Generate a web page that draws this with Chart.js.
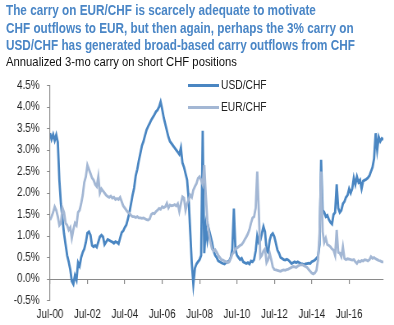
<!DOCTYPE html>
<html>
<head>
<meta charset="utf-8">
<script src="https://cdn.jsdelivr.net/npm/chart.js@4.4.1/dist/chart.umd.min.js"></script>
<style>
  html, body { margin: 0; padding: 0; background: #fff; }
  #wrap { position: relative; width: 394px; height: 325px; overflow: hidden; font-family: "Liberation Sans", Arial, sans-serif; }
  #chart { position: absolute; left: 0; top: 0; }
  .fit { position: absolute; left: 6px; white-space: nowrap; transform-origin: 0 0; }
  #title { top: 1px; font-weight: bold; font-size: 15px; line-height: 17.5px; color: #4A86C6; }
  #subtitle { top: 54px; font-size: 13px; line-height: 16px; color: #111; }
  .leg { position: absolute; font-size: 12.5px; line-height: 14px; color: #222; white-space: nowrap; transform: scaleX(0.82); transform-origin: 0 0; }
  .legline { position: absolute; height: 3px; width: 31px; }
</style>
</head>
<body>
<div id="wrap">
  <canvas id="chart" width="480" height="325" style="width:394px;height:325px;"></canvas>
  <div id="title" class="fit">The carry on EUR/CHF is scarcely adequate to motivate<br>CHF outflows to EUR, but then again, perhaps the 3% carry on<br>USD/CHF has generated broad-based carry outflows from CHF</div>
  <div id="subtitle" class="fit">Annualized 3-mo carry on short CHF positions</div>
  <div class="legline" style="left:188px; top:84px; background:#4A86C2;"></div>
  <div class="leg" style="left:221px; top:78px;">USD/CHF</div>
  <div class="legline" style="left:188px; top:106px; background:#A3B7D4;"></div>
  <div class="leg" style="left:221px; top:100px;">EUR/CHF</div>
</div>
<script>
// Monthly observations, Jul-2000 onward (index = months since Jul-2000)
const usdChf = [
  3.39,3.25,3.36,3.22,3.35,3.18,2.30,1.75,1.40,1.05,
  0.80,0.55,0.40,0.22,-0.05,-0.12,0.08,-0.02,0.38,0.30,
  0.50,0.62,0.70,0.85,1.07,1.10,1.02,0.78,0.75,0.78,
  0.74,0.86,0.98,1.02,0.98,0.80,0.86,0.92,0.90,0.88,
  0.86,0.83,0.87,0.85,0.82,0.95,1.08,1.12,1.20,1.26,
  1.40,1.55,1.75,1.95,2.12,2.40,2.55,2.75,2.92,3.10,
  3.20,3.34,3.47,3.55,3.62,3.70,3.76,3.82,3.89,3.93,
  4.00,4.12,3.95,3.75,3.60,3.45,3.30,3.20,3.15,3.10,
  3.05,3.00,2.95,2.90,3.05,2.70,2.60,2.45,2.30,1.85,
  1.10,0.37,-0.12,0.25,0.35,0.40,0.45,0.55,3.45,0.60,
  1.20,0.90,1.15,1.00,0.85,0.65,0.55,0.50,0.42,0.40,
  0.38,0.36,0.35,0.38,0.40,0.42,0.50,0.70,1.64,0.70,
  0.55,0.50,0.45,0.48,0.40,0.38,0.36,0.38,0.35,0.42,
  0.40,0.45,0.65,1.00,0.85,0.90,1.06,1.22,1.10,0.67,
  0.62,0.90,1.02,1.06,0.98,0.83,0.67,0.60,0.50,0.48,
  0.45,0.44,0.46,0.44,0.40,0.36,0.38,0.40,0.38,0.40,
  0.38,0.36,0.35,0.33,0.35,0.36,0.37,0.36,0.40,0.42,
  0.44,0.48,0.52,0.80,2.77,1.60,1.55,1.45,1.48,1.38,
  1.32,1.28,1.50,1.55,2.20,1.65,1.55,1.60,1.75,1.80,
  1.90,1.95,2.10,2.00,2.10,2.35,2.20,2.38,2.25,2.30,
  2.10,2.28,2.30,2.32,2.35,2.40,2.50,2.60,2.80,3.39,
  3.00,3.30,3.20,3.27,3.24
];
const eurChf = [
  1.37,1.45,1.55,1.68,1.60,1.45,1.25,1.30,1.65,1.55,
  1.30,1.25,1.14,1.20,0.95,1.15,1.30,1.25,1.55,1.60,
  1.75,1.95,2.25,2.38,2.65,2.55,2.45,2.35,2.30,2.20,
  2.15,2.38,2.00,2.10,2.05,2.00,1.95,1.92,1.90,1.93,
  1.88,1.90,1.85,1.87,1.85,1.90,1.80,1.70,1.65,1.60,
  1.55,1.53,1.48,1.45,1.45,1.43,1.45,1.42,1.42,1.41,
  1.42,1.40,1.38,1.37,1.40,1.50,1.53,1.52,1.57,1.60,
  1.64,1.62,1.68,1.66,1.68,1.76,1.65,1.72,1.70,1.71,
  1.73,1.70,1.75,1.57,1.75,1.91,1.88,1.60,1.75,1.85,
  1.95,1.90,2.07,2.15,2.22,2.34,2.38,2.30,2.20,2.65,
  1.95,1.35,1.05,0.85,0.70,0.65,0.68,0.62,0.55,0.50,
  0.45,0.44,0.42,0.40,0.38,0.40,0.48,0.58,0.62,0.70,
  0.72,0.75,0.78,0.80,0.85,0.92,0.98,1.05,1.15,1.30,
  1.42,1.45,1.65,2.50,1.60,0.50,0.55,0.65,0.70,0.38,
  0.45,0.60,0.45,0.28,0.22,0.21,0.20,0.19,0.18,0.20,
  0.21,0.20,0.22,0.23,0.25,0.27,0.29,0.28,0.27,0.30,
  0.32,0.33,0.33,0.31,0.29,0.27,0.22,0.18,0.14,0.12,
  0.14,0.20,0.44,1.06,2.50,1.10,0.85,0.95,0.80,0.78,
  0.75,0.70,0.67,0.55,1.14,0.62,0.60,0.52,0.75,0.48,
  0.45,0.47,0.46,0.45,0.44,0.45,0.40,0.36,0.42,0.40,
  0.43,0.42,0.45,0.44,0.42,0.45,0.52,0.48,0.50,0.47,
  0.45,0.43,0.42,0.40,0.40
];
const xTickLabels = ["Jul-00","Jul-02","Jul-04","Jul-06","Jul-08","Jul-10","Jul-12","Jul-14","Jul-16"];
const xTickStep = 24; // months between tick labels
const yMin = -0.5, yMax = 4.5, yStep = 0.5;

// Fit title/subtitle to the condensed widths of the original
function fitWidth(id, target) {
  const el = document.getElementById(id);
  const w = el.scrollWidth;
  if (w > 0) el.style.transform = 'scaleX(' + (target / w) + ')';
}
fitWidth('title', 349);
fitWidth('subtitle', 231);

// Canvas is drawn 480 wide and shown 394 wide: narrow-font look for canvas text
const S = 394 / 480;
const toPoints = arr => arr.map((v, i) => ({ x: i, y: v }));
const lastIndex = usdChf.length - 1;
const FONT = "'Liberation Sans', Arial, sans-serif";
const AXIS = '#8A8A8A';
const keepSteps = s => { s.ticks = s.ticks.filter(t => t.value % xTickStep === 0); };

new Chart(document.getElementById('chart'), {
  type: 'line',
  data: {
    datasets: [
      { label: 'USD/CHF', data: toPoints(usdChf), borderColor: '#4A86C2', borderWidth: 2.8, pointRadius: 0, tension: 0, order: 2 },
      { label: 'EUR/CHF', data: toPoints(eurChf), borderColor: '#A3B7D4', borderWidth: 2.8, pointRadius: 0, tension: 0, order: 1 }
    ]
  },
  options: {
    responsive: false,
    maintainAspectRatio: false,
    devicePixelRatio: 1,
    animation: false,
    events: [],
    layout: { padding: { left: 0, right: 480 - 383.4 / S, top: 85.5, bottom: 0 } },
    plugins: { legend: { display: false }, tooltip: { enabled: false }, title: { display: false } },
    scales: {
      x: {
        type: 'linear', position: 'bottom', min: 0, max: lastIndex,
        afterBuildTicks: keepSteps,
        afterFit: s => { s.height = 24.5; },
        grid: { display: false, drawTicks: false }, border: { display: false },
        ticks: { stepSize: xTickStep, autoSkip: false, maxRotation: 0, padding: 7, color: '#222',
                 font: { family: FONT, size: 12 },
                 callback: v => xTickLabels[v / xTickStep] }
      },
      xz: {
        type: 'linear', axis: 'x', position: { y: 0 }, min: 0, max: lastIndex,
        afterBuildTicks: keepSteps,
        grid: { display: true, drawOnChartArea: false, drawTicks: true, tickLength: 4, color: AXIS, tickColor: AXIS, lineWidth: 1.2 },
        border: { display: true, color: AXIS, width: 1 },
        ticks: { display: false, stepSize: xTickStep }
      },
      y: {
        min: yMin, max: yMax,
        afterFit: s => { s.width = 50 / S; },
        grid: { display: true, drawOnChartArea: false, drawTicks: true, tickLength: 3.7, color: AXIS, tickColor: AXIS },
        border: { display: true, color: AXIS, width: 1.2 },
        ticks: { stepSize: yStep, padding: 9, color: '#222', font: { family: FONT, size: 12 },
                 callback: v => v.toFixed(1) + '%' }
      }
    }
  }
});
</script>
</body>
</html>
